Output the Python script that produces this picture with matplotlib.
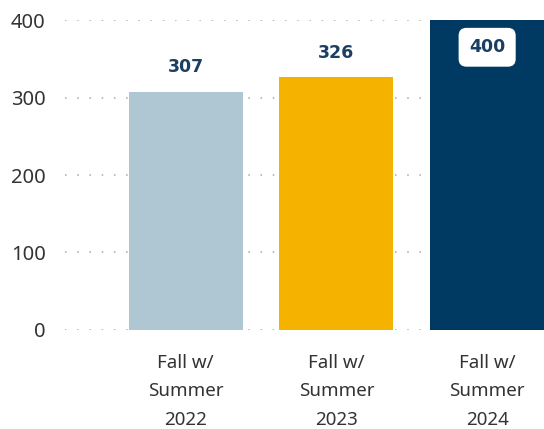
import matplotlib.pyplot as plt
import numpy as np

plt.rcParams['font.family'] = ['Noto Sans', 'DejaVu Sans']

# data
categories = ['Fall w/\nSummer\n2022', 'Fall w/\nSummer\n2023', 'Fall w/\nSummer\n2024']
values = [307, 326, 400]
colors = ['#AFC6D3', '#F5B300', '#003A63']
yticks = [0, 100, 200, 300, 400]

fig = plt.figure(figsize=(5.44, 4.29), dpi=100)
ax = fig.add_axes([0.1195, 0.231, 0.8805, 0.722])

x = np.arange(len(values))
bars = ax.bar(x, values, width=0.755, color=colors, zorder=2)

ax.set_xlim(-0.80, 2.377)
ax.set_ylim(0, 400)
ax.set_yticks(yticks)
ax.set_xticks(x)
ax.set_xticklabels(categories, fontsize=13.5, color='#333333', linespacing=1.75)
ax.tick_params(axis='y', labelsize=14.5, colors='#333333', length=0, pad=14)
ax.tick_params(axis='x', length=0, pad=17)

# dotted gridlines
ax.grid(axis='y', color='#A8A8A8', linestyle=(0, (1, 7)), linewidth=1.1, zorder=1)
for s in ax.spines.values():
    s.set_visible(False)

# value labels
lab = dict(ha='center', va='center', fontsize=12.5, fontweight='bold',
           color='#1B3F63', family='DejaVu Sans', zorder=3)
for i, v in enumerate(values):
    if i == len(values) - 1:
        ax.text(i, v - 35, str(v), **lab,
                bbox=dict(boxstyle='round,pad=0.6,rounding_size=0.45', fc='white', ec='none'))
    else:
        ax.text(i, v + 32, str(v), **lab)

fig.savefig('out.png', dpi=100)
